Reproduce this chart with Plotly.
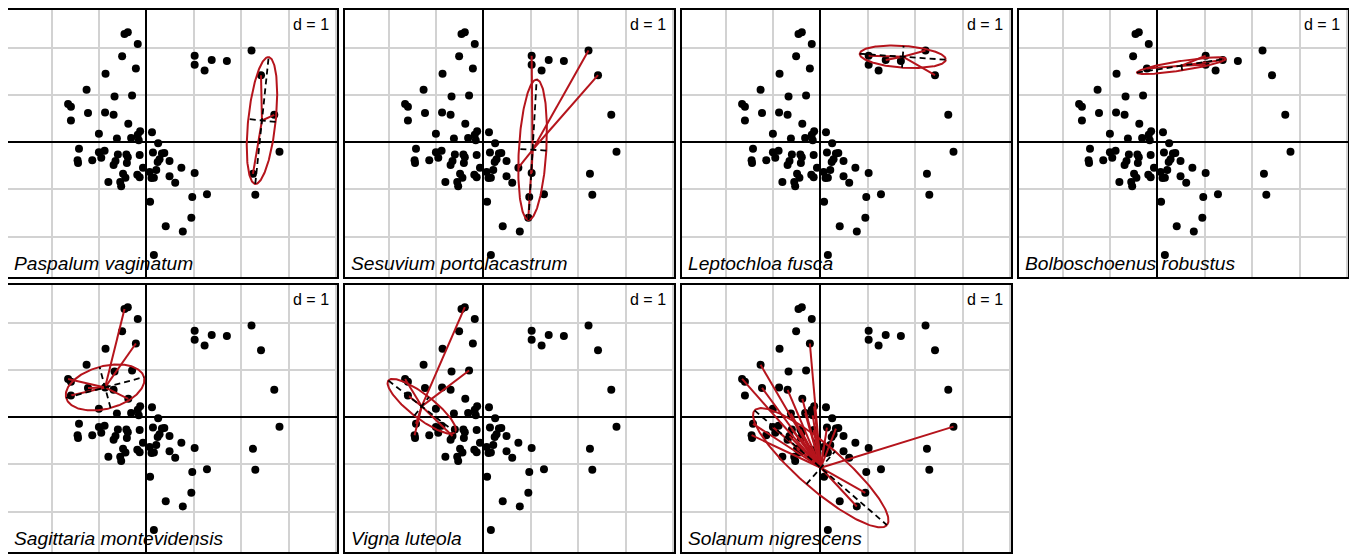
import numpy as np
import plotly.graph_objects as go

# ---- site scores (same cloud in every panel) ----
site_x = [-0.46, -0.39, -0.18, -0.51, -0.22, -0.86, -1.26, -0.67, -0.30, -1.65,
          -1.59, -1.23, -0.87, -0.69, -1.59, -0.38, -1.00, -0.62, -0.32, -0.18,
          -0.13, -0.16, 0.12, 0.25, -1.42, -1.45, -1.44, -1.14, -1.00, -0.88,
          -0.95, -0.60, -0.42, -0.39, -0.65, -0.69, -0.41, -0.14, 0.14, 0.33,
          0.38, 0.28, 0.24, 0.49, -0.07, 0.21, 0.07, 0.11, 0.16, -0.19,
          -0.14, -0.49, -0.44, -0.55, -0.53, -0.80, 0.49, 0.61, 0.74, 1.02,
          0.97, 1.28, 0.95, 0.08, 0.41, 0.77, 0.16, 1.02, 1.02, 1.23,
          1.38, 1.70, 2.22, 2.42, 2.70, 2.81, 2.25, 2.30]
site_y = [2.29, 2.33, 2.08, 1.82, 1.56, 1.45, 1.11, 0.97, 0.99, 0.81,
          0.75, 0.62, 0.63, 0.58, 0.46, 0.39, 0.18, 0.08, 0.09, 0.16,
          0.23, 0.04, 0.21, -0.02, -0.14, -0.38, -0.44, -0.38, -0.21, -0.18,
          -0.33, -0.26, -0.26, -0.32, -0.40, -0.48, -0.44, -0.27, -0.22, -0.24,
          -0.23, -0.36, -0.42, -0.40, -0.54, -0.59, -0.63, -0.76, -0.75, -0.69,
          -0.74, -0.67, -0.75, -0.84, -0.93, -0.84, -0.72, -0.86, -0.54, -0.65,
          -1.16, -1.10, -1.60, -1.26, -1.78, -1.89, -2.39, 1.83, 1.64, 1.52,
          1.74, 1.72, 1.94, 1.42, 0.58, -0.20, -0.67, -1.11]

# ---- species (classes) ----
species = ["Paspalum vaginatum", "Sesuvium portolacastrum", "Leptochloa fusca",
           "Bolboschoenus robustus", "Sagittaria montevidensis", "Vigna luteola",
           "Solanum nigrescens"]
# sites (1-based) where each species occurs
occ_paspalum = [74, 75, 77]
occ_sesuvium = [68, 73, 74, 59, 60, 63]
occ_leptochloa = [68, 71, 73, 74]
occ_bolboschoenus = [5, 68, 69, 71]
occ_sagittaria = [1, 5, 10, 12, 13, 15, 16]
occ_vigna = [2, 9, 10, 15, 25, 26, 35]
occ_solanum = [5, 7, 10, 12, 14, 16, 18, 19, 21, 22, 25, 26, 29, 32, 33,
               35, 37, 38, 39, 40, 45, 47, 52, 63, 66, 76]
# class centres and ellipse (semi-axes, angle in degrees)
centre_x = [2.44, 1.04, 1.74, 0.51, -0.87, -1.30, 0.01]
centre_y = [0.46, -0.16, 1.81, 1.62, 0.63, 0.23, -1.07]
ell_a = [1.35, 1.49, 0.91, 0.95, 0.85, 0.89, 1.85]
ell_b = [0.29, 0.29, 0.23, 0.10, 0.45, 0.25, 0.46]
ell_angle = [84.0, 86.7, -4.0, 8.9, 15.0, -37.8, -41.0]

occupancy = [occ_paspalum, occ_sesuvium, occ_leptochloa, occ_bolboschoenus,
             occ_sagittaria, occ_vigna, occ_solanum]

# ---- layout geometry (pixels, the page body adds an 8px margin) ----
FW, FH = 1349, 546
col_left = [0, 337, 674, 1011]
row_top = [0, 276]
PW, PH = 329, 268
UNIT = 47.4
OX, OY = 138.3, 132.7
xr = [-OX / UNIT, (PW - OX) / UNIT]
yr = [-(PH - OY) / UNIT, OY / UNIT]

RED = "#B5141C"
fig = go.Figure()
layout = dict(width=FW, height=FH, margin=dict(l=0, r=0, t=0, b=0),
              autosize=False, paper_bgcolor="white", plot_bgcolor="white",
              showlegend=False, annotations=[])

t = np.linspace(0, 2 * np.pi, 200)
for k, name in enumerate(species):
    r, c = divmod(k, 4)
    ax = "" if k == 0 else str(k + 1)
    xa, ya = "x" + ax, "y" + ax
    left = col_left[c]
    top = row_top[r]
    axis_common = dict(showgrid=True, gridcolor="#d2d2d2", gridwidth=2, dtick=1, tick0=0,
                       zeroline=True, zerolinecolor="black", zerolinewidth=1.5,
                       showticklabels=False, ticks="", showline=True, mirror=True,
                       linecolor="black", linewidth=2, fixedrange=True)
    layout["xaxis" + ax] = dict(axis_common, domain=[left / FW, (left + PW) / FW],
                                range=xr, anchor=ya)
    layout["yaxis" + ax] = dict(axis_common,
                                domain=[1 - (top + PH) / FH, 1 - top / FH],
                                range=yr, anchor=xa)

    # points
    fig.add_trace(go.Scatter(x=site_x, y=site_y, mode="markers", xaxis=xa, yaxis=ya,
                             marker=dict(color="black", size=8, line=dict(width=0)),
                             hoverinfo="skip"))
    cx, cy = centre_x[k], centre_y[k]
    # star
    sx, sy = [], []
    for i in occupancy[k]:
        sx += [cx, site_x[i - 1], None]
        sy += [cy, site_y[i - 1], None]
    fig.add_trace(go.Scatter(x=sx, y=sy, mode="lines", xaxis=xa, yaxis=ya,
                             line=dict(color=RED, width=2), hoverinfo="skip"))
    # ellipse
    th = np.deg2rad(ell_angle[k])
    a, b = ell_a[k], ell_b[k]
    ex = cx + a * np.cos(t) * np.cos(th) - b * np.sin(t) * np.sin(th)
    ey = cy + a * np.cos(t) * np.sin(th) + b * np.sin(t) * np.cos(th)
    fig.add_trace(go.Scatter(x=ex, y=ey, mode="lines", xaxis=xa, yaxis=ya,
                             line=dict(color=RED, width=2), hoverinfo="skip"))
    # ellipse axes
    axx = [cx - a * np.cos(th), cx + a * np.cos(th), None,
           cx + b * np.sin(th), cx - b * np.sin(th)]
    axy = [cy - a * np.sin(th), cy + a * np.sin(th), None,
           cy - b * np.cos(th), cy + b * np.cos(th)]
    fig.add_trace(go.Scatter(x=axx, y=axy, mode="lines", xaxis=xa, yaxis=ya,
                             line=dict(color="black", width=1.8, dash="6px,4px"),
                             hoverinfo="skip"))

    layout["annotations"].append(dict(
        text="d = 1", xref=xa + " domain", yref=ya + " domain",
        x=1 - 6 / PW, y=1 - 4 / PH, xanchor="right", yanchor="top", showarrow=False,
        font=dict(family="Liberation Sans, Arial", size=16, color="black")))
    layout["annotations"].append(dict(
        text="<i>" + name + "</i>", xref=xa + " domain", yref=ya + " domain",
        x=4 / PW, y=1 / PH, xanchor="left", yanchor="bottom", showarrow=False,
        font=dict(family="Liberation Sans, Arial", size=19.2, color="black")))

fig.update_layout(**layout)
fig.write_html("out.html")
